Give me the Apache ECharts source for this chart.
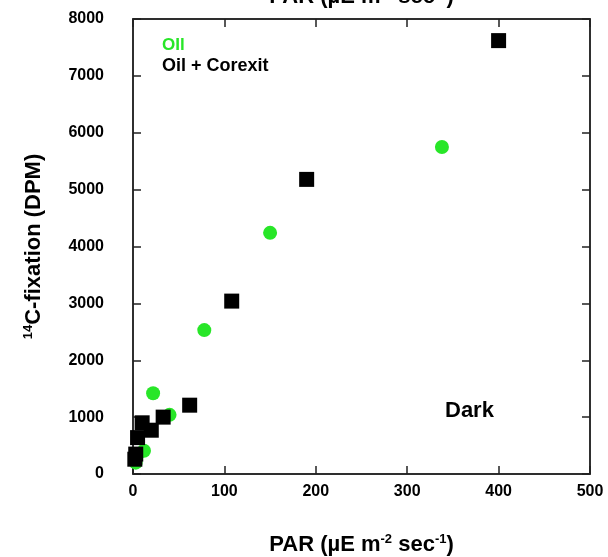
<!DOCTYPE html>
<html><head><meta charset="utf-8">
<script src="https://cdn.jsdelivr.net/npm/echarts@6/dist/echarts.min.js"></script>
<style>html,body{margin:0;padding:0;background:#fff}#c{width:608px;height:557px}</style>
</head><body><div id="c"></div>
<script>
// PAR values (x) and 14C-fixation DPM (y)
const oilPAR = [338, 150, 78, 40, 22, 12, 5, 3];
const oilDPM = [5750, 4240, 2530, 1040, 1420, 410, 350, 200];
const corexitPAR = [400, 190, 108, 62, 33, 20, 10, 5, 3, 2];
const corexitDPM = [7620, 5180, 3040, 1210, 1000, 770, 900, 640, 350, 260];
const xTicks = [0, 100, 200, 300, 400, 500];
const yTicks = [0, 1000, 2000, 3000, 4000, 5000, 6000, 7000, 8000];

const FONT = 'Liberation Sans, Arial, sans-serif';
const nameRich = () => ({
  a: {fontFamily: FONT, fontWeight: 'bold', fontSize: 22, color: '#000'},
  s: {fontFamily: FONT, fontWeight: 'bold', fontSize: 13, color: '#000', padding: [0, 0, 10, 0]}
});
const parName = '{a|PAR (µE m}{s|-2}{a| sec}{s|-1}{a|)}';

const chart = echarts.init(document.getElementById('c'), null, {renderer: 'canvas'});
const axisLine = () => ({show: true, onZero: false, lineStyle: {color: '#222', width: 1.5}});
const tickStyle = () => ({show: true, inside: true, length: 8, lineStyle: {color: '#222', width: 1.5}});
const labelStyle = (m) => ({show: true, margin: m, fontFamily: FONT, fontWeight: 'bold', fontSize: 16, color: '#000', formatter: v => String(v)});
const xMin = xTicks[0], xMax = xTicks[xTicks.length - 1];
const yMin = yTicks[0], yMax = yTicks[yTicks.length - 1];

chart.setOption({
  animation: false,
  grid: {left: 133, top: 19, right: 18, bottom: 83, containLabel: false, outerBoundsMode: 'none',
         show: true, borderColor: '#222', borderWidth: 1.5, backgroundColor: 'transparent'},
  xAxis: [
    {type: 'value', min: xMin, max: xMax, interval: 100, position: 'bottom',
     axisLine: axisLine(), axisTick: tickStyle(), splitLine: {show: false},
     axisLabel: labelStyle(10),
     name: parName, nameLocation: 'middle', nameGap: 59, nameTextStyle: {rich: nameRich()}},
    {type: 'value', min: xMin, max: xMax, interval: 100, position: 'top',
     axisLine: axisLine(), axisTick: tickStyle(), splitLine: {show: false},
     axisLabel: {show: false},
     name: parName, nameLocation: 'middle', nameGap: 11, nameTextStyle: {rich: nameRich()}}
  ],
  yAxis: [
    {type: 'value', min: yMin, max: yMax, interval: 1000, position: 'left',
     axisLine: axisLine(), axisTick: tickStyle(), splitLine: {show: false},
     axisLabel: labelStyle(29),
     name: '{s|14}{a|C-fixation (DPM)}', nameLocation: 'middle', nameGap: 88, nameRotate: 90,
     nameTextStyle: {rich: nameRich()}},
    {type: 'value', min: yMin, max: yMax, interval: 1000, position: 'right',
     axisLine: axisLine(), axisTick: tickStyle(), splitLine: {show: false}, axisLabel: {show: false}}
  ],
  series: [
    {name: 'OIl', type: 'scatter', symbol: 'circle', symbolSize: 14,
     xAxisIndex: 0, yAxisIndex: 0,
     itemStyle: {color: '#28e628', opacity: 1},
     data: oilPAR.map((x, i) => [x, oilDPM[i]])},
    {name: 'Oil + Corexit', type: 'scatter', symbol: 'rect', symbolSize: 15,
     xAxisIndex: 0, yAxisIndex: 0,
     itemStyle: {color: '#000', opacity: 1},
     data: corexitPAR.map((x, i) => [x, corexitDPM[i]])},
    {name: 'frame', type: 'scatter', xAxisIndex: 1, yAxisIndex: 1, symbolSize: 0,
     silent: true, data: []}
  ],
  graphic: [
    {type: 'text', left: 162, top: 37, style: {text: 'OIl', fill: '#28e628', font: 'bold 17px ' + FONT}},
    {type: 'text', left: 162, top: 57, style: {text: 'Oil + Corexit', fill: '#000', font: 'bold 18px ' + FONT}},
    {type: 'text', left: 445, top: 400, style: {text: 'Dark', fill: '#000', font: 'bold 22px ' + FONT}}
  ]
});
</script></body></html>
